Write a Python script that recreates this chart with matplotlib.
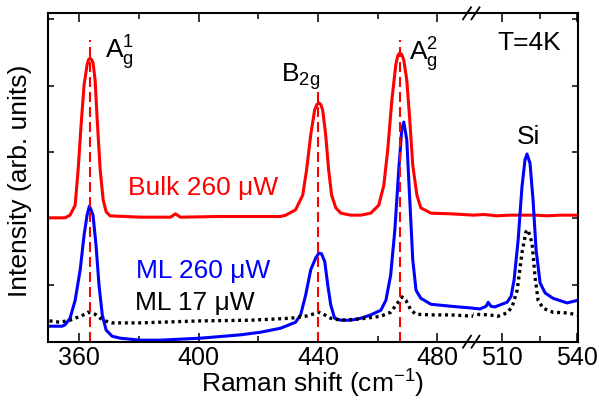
# Raman spectra: bulk vs monolayer, broken x axis
import matplotlib.pyplot as plt
from matplotlib.lines import Line2D

plt.rcParams['font.family'] = ['Liberation Sans', 'DejaVu Sans']
plt.rcParams['mathtext.fontset'] = 'custom'
plt.rcParams['mathtext.rm'] = 'Liberation Sans'
plt.rcParams['mathtext.it'] = 'Liberation Sans:italic'
plt.rcParams['mathtext.bf'] = 'Liberation Sans:bold'

# ---- data ----
bulk_shift = [350.0, 355.2, 356.9, 358.6, 359.6, 360.6, 361.6, 362.6, 363.1, 363.6, 364.1, 364.6, 365.3,
              366.0, 367.0, 368.0, 369.0, 370.3, 380.4, 390.6, 392.2, 393.9, 407.3, 417.4,
              427.5, 429.2, 432.5, 434.9, 436.2, 437.6, 438.9, 439.6, 440.3, 441.0, 441.6, 442.6, 443.6,
              444.6, 446.0, 447.7, 451.0, 454.4, 457.7, 460.4, 462.1, 463.4, 464.8, 466.1,
              466.8, 467.5, 468.2, 468.8, 469.8, 470.8, 471.8, 473.2, 474.5, 477.9, 484.6, 492.4, 498.6,
              503.0, 508.0, 513.0, 518.0, 523.0, 528.0, 533.0, 540.1]
bulk_int = [1.01, 1.01, 1.05, 1.20, 1.73, 2.41, 3.01, 3.31, 3.39, 3.41, 3.39, 3.34, 3.08,
            2.48, 1.73, 1.28, 1.10, 1.04, 1.02, 1.02, 1.07, 1.02, 1.03, 1.03,
            1.03, 1.05, 1.13, 1.35, 1.73, 2.26, 2.63, 2.71, 2.74, 2.71, 2.63, 2.26, 1.73,
            1.35, 1.16, 1.08, 1.05, 1.05, 1.08, 1.20, 1.50, 2.03, 2.78, 3.31,
            3.45, 3.49, 3.46, 3.38, 3.08, 2.48, 1.80, 1.35, 1.16, 1.08, 1.07, 1.05, 1.05,
            1.06, 1.04, 1.05, 1.05, 1.05, 1.04, 1.05, 1.05]

ml260_shift = [350.0, 354.2, 355.2, 356.9, 358.6, 360.3, 361.6, 362.6, 363.4, 364.6, 365.6,
               366.6, 367.7, 369.0, 371.0, 373.7, 380.4, 387.1, 400.6, 414.0, 420.8, 427.5,
               432.5, 434.2, 435.9, 437.6, 439.2, 440.3, 441.2, 442.3, 443.3, 444.3, 445.6, 447.7,
               451.0, 454.4, 457.7, 461.1, 462.8, 464.4, 465.8, 467.1, 468.1, 468.8, 469.8,
               470.8, 471.8, 472.9, 474.5, 477.9, 484.6, 492.4,
               498.6, 501.4, 503.8, 504.6, 505.7, 507.3, 509.3, 512.1, 513.7, 514.9, 516.5,
               518.0, 519.2, 520.0, 521.2, 522.4, 523.6, 525.2, 527.2, 530.3, 535.9, 540.1]
ml260_int = [-0.62, -0.62, -0.60, -0.50, -0.23, 0.23, 0.75, 1.05, 1.19, 1.05, 0.60,
             0.00, -0.45, -0.68, -0.77, -0.80, -0.83, -0.83, -0.80, -0.75, -0.71, -0.65,
             -0.56, -0.45, -0.15, 0.23, 0.40, 0.48, 0.47, 0.35, 0.00, -0.30, -0.50, -0.53,
             -0.53, -0.50, -0.45, -0.38, -0.23, 0.15, 0.83, 1.73, 2.33, 2.45, 2.18,
             1.28, 0.38, -0.08, -0.20, -0.29, -0.32, -0.35,
             -0.35, -0.36, -0.32, -0.26, -0.32, -0.33, -0.30, -0.26, -0.17, 0.08, 0.68,
             1.47, 1.88, 1.97, 1.83, 1.28, 0.53, 0.03, -0.12, -0.20, -0.27, -0.23]

ml17_shift = [350.0, 353.5, 356.9, 360.3, 361.9, 362.9, 365.3, 367.0, 368.7, 371.0, 380.4,
              400.6, 417.4, 430.8, 435.9, 438.2, 440.3, 442.3, 444.3, 447.7, 454.4, 461.1,
              464.4, 466.9, 468.2, 469.5, 471.2, 472.9, 477.9, 484.6, 492.4,
              498.6, 505.3, 508.5, 512.1, 514.1, 516.1, 518.0, 519.6, 520.4, 522.0, 523.2,
              524.4, 526.4, 530.3, 535.9, 540.1]
ml17_int = [-0.54, -0.56, -0.53, -0.47, -0.44, -0.41, -0.44, -0.50, -0.54, -0.57, -0.57,
            -0.54, -0.53, -0.50, -0.47, -0.44, -0.41, -0.45, -0.50, -0.53, -0.51, -0.47,
            -0.41, -0.26, -0.18, -0.23, -0.38, -0.44, -0.45, -0.45, -0.47,
            -0.44, -0.45, -0.47, -0.42, -0.33, -0.08, 0.48, 0.80, 0.83, 0.63, 0.12,
            -0.23, -0.35, -0.41, -0.42, -0.45]

peak_pos = [363.6, 440.0, 467.5]
peak_top = [0.92, 0.775, 0.92]   # top of dashed guide lines (axes fraction)

W, H = 599, 405
FS = 19

fig = plt.figure(figsize=(W / 100, H / 100), dpi=100)
y0, y1 = 341.7, 13.3
ax1 = fig.add_axes([48.3 / W, 1 - y0 / H, (473 - 48.3) / W, (y0 - y1) / H])
ax2 = fig.add_axes([473 / W, 1 - y0 / H, (577.7 - 473) / W, (y0 - y1) / H])

for ax in (ax1, ax2):
    ax.plot(bulk_shift, bulk_int, color='#ff0000', lw=2.2)
    ax.plot(ml260_shift, ml260_int, color='#0000ff', lw=2.2)
    ax.plot(ml17_shift, ml17_int, color='black', lw=2.4, linestyle=(0, (0.9, 1.1)))
    ax.set_ylim(-0.853, 4.086)
    ax.set_yticks([0, 1, 2, 3, 4])
    for s in ax.spines.values():
        s.set_linewidth(1.5)
    ax.tick_params(which='both', direction='in', top=True, width=1.1,
                   labelsize=18, pad=3)
    ax.tick_params(which='major', length=6.5)
    ax.tick_params(which='minor', length=4.3)
    ax.tick_params(axis='y', labelleft=False)

ax1.set_xlim(349.6, 492.0)
ax1.set_xticks([360, 400, 440, 480])
ax1.set_xticks([380, 420, 460], minor=True)
ax1.spines['right'].set_visible(False)
ax1.tick_params(axis='y', left=True, right=False, length=4.5)

ax2.set_xlim(498.6, 540.1)
ax2.set_xticks([510, 540])
ax2.set_xticks([525], minor=True)
ax2.spines['left'].set_visible(False)
ax2.tick_params(axis='y', left=False, right=True, length=4.5)

for p, t in zip(peak_pos, peak_top):
    ax1.axvline(p, ymin=0, ymax=t, color='#ff0000', lw=1.5, linestyle=(0, (4.8, 2.4)))

# peak labels
ax1.text(368.7, 3.41, r'$\mathregular{A_g^1}$', fontsize=FS)
ax1.text(427.5, 3.05, r'$\mathregular{B_{2g}}$', fontsize=FS)
ax1.text(470.5, 3.38, r'$\mathregular{A_g^2}$', fontsize=FS)
ax2.text(520.8, 2.12, 'Si', fontsize=FS, ha='center')
ax2.text(508.1, 3.53, 'T=4K', fontsize=FS)

# series labels
ax1.text(376.4, 1.35, 'Bulk 260 \u03bcW', fontsize=FS, color='#ff0000')
ax1.text(379.1, 0.105, 'ML 260 \u03bcW', fontsize=FS, color='#0000ff')
ax1.text(378.7, -0.376, 'ML 17 \u03bcW', fontsize=FS, color='black')

fig.text(313 / W, 1 - 393 / H, r'Raman shift (cm$^{\mathregular{-1}}$)', fontsize=FS,
         ha='center', va='baseline')
fig.text(20 / W, 1 - 181 / H, 'Intensity (arb. units)', fontsize=FS,
         rotation=90, ha='center', va='center')

# axis break marks
for cx in (467, 475.5):
    for cy in (y1, y0):
        fig.add_artist(Line2D([(cx - 4) / W, (cx + 4) / W], [1 - (cy + 6) / H, 1 - (cy - 6) / H],
                              transform=fig.transFigure, color='black', lw=1.3))

fig.savefig('out.png', dpi=100)
